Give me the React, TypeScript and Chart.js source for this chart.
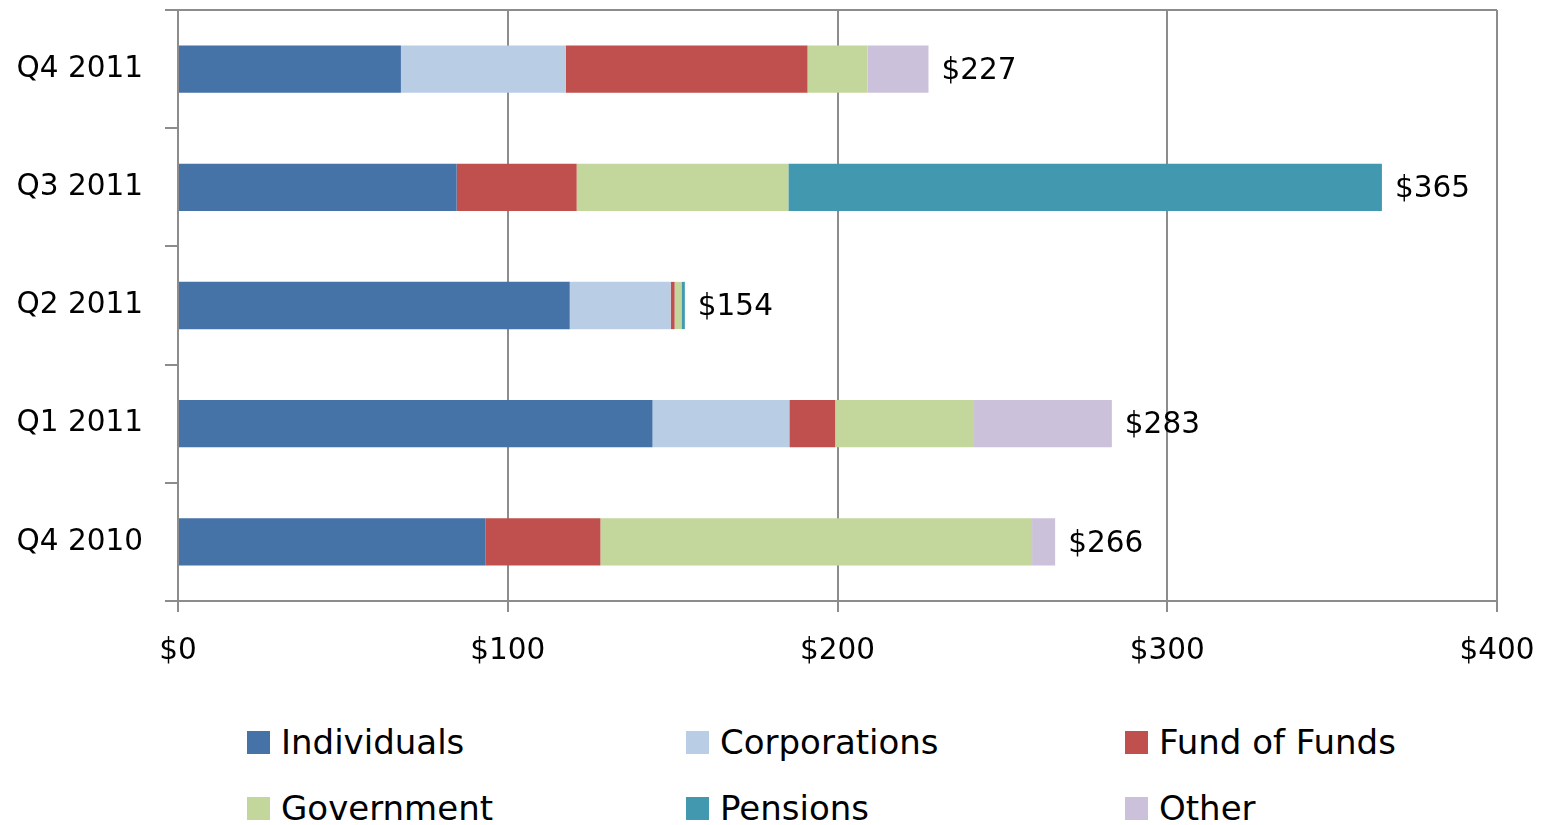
import React, { useEffect, useRef } from "react";
import { Chart, registerables } from "chart.js";

Chart.register(...registerables);

const categories = ["Q4 2011", "Q3 2011", "Q2 2011", "Q1 2011", "Q4 2010"];
const individuals = [67.6, 84.5, 118.8, 143.9, 93.3];
const corporations = [50, 0, 30.6, 41.5, 0];
const fundOfFunds = [73.3, 36.4, 1.2, 13.9, 34.8];
const government = [18.2, 64.2, 2.1, 42.1, 130.9];
const pensions = [0, 180, 1, 0, 0];
const other = [18.5, 0, 0, 41.8, 7];
const totalLabels = ["$227", "$365", "$154", "$283", "$266"];
const xTicks = [0, 100, 200, 300, 400];

const seriesNames = ["Individuals", "Corporations", "Fund of Funds", "Government", "Pensions", "Other"];
const seriesColors = ["#4572A7", "#B9CDE5", "#C0504D", "#C3D69B", "#4198AF", "#CCC1DA"];
const seriesData = [individuals, corporations, fundOfFunds, government, pensions, other];

const FONT = "'DejaVu Sans', sans-serif";
const GRID = "#8C8C8C";
const LABEL_SIZE = 29.5;

const totalsPlugin = {
  id: "totals",
  afterDatasetsDraw(chart: any) {
    const ctx = chart.ctx;
    const xs = chart.scales.x;
    const ys = chart.scales.y;
    ctx.save();
    ctx.font = `${LABEL_SIZE}px ${FONT}`;
    ctx.fillStyle = "#000";
    ctx.textAlign = "left";
    ctx.textBaseline = "middle";
    categories.forEach((_, i) => {
      let sum = 0;
      seriesData.forEach((arr) => (sum += arr[i]));
      const x = xs.getPixelForValue(sum) + 13;
      const y = ys.getPixelForValue(i) + 2;
      ctx.fillText(totalLabels[i], x, y);
    });
    ctx.restore();
  },
};

export default function App() {
  const ref = useRef<HTMLCanvasElement>(null);
  useEffect(() => {
    document.body.style.margin = "0";
    const chart = new Chart(ref.current!, {
      type: "bar",
      data: {
        labels: categories,
        datasets: seriesData.map((d, i) => ({
          label: seriesNames[i],
          data: d,
          backgroundColor: seriesColors[i],
          borderWidth: 0,
          categoryPercentage: 1,
          barPercentage: 0.4,
        })),
      },
      options: {
        indexAxis: "y",
        animation: false,
        responsive: false,
        maintainAspectRatio: false,
        layout: { padding: { top: 10, right: 48, left: 0, bottom: 0 } },
        plugins: { legend: { display: false }, tooltip: { enabled: false } },
        scales: {
          x: {
            stacked: true,
            min: 0,
            max: 400,
            afterBuildTicks: (s: any) => {
              s.ticks = xTicks.map((v) => ({ value: v }));
            },
            ticks: {
              callback: (v: any) => "$" + v,
              color: "#000",
              font: { family: FONT, size: LABEL_SIZE },
              padding: 22,
              maxRotation: 0,
            },
            grid: { color: GRID, lineWidth: 2, tickLength: 11, tickColor: GRID },
            border: { color: GRID, width: 2 },
            afterFit: (s: any) => {
              s.height = 79;
              s.paddingLeft = 0;
              s.paddingRight = 0;
            },
          },
          y: {
            stacked: true,
            offset: true,
            ticks: {
              color: "#000",
              font: { family: FONT, size: LABEL_SIZE },
              padding: 22,
            },
            grid: {
              offset: true,
              color: (c: any) => (c.index === 0 ? GRID : "rgba(0,0,0,0)"),
              tickColor: GRID,
              lineWidth: 2,
              tickLength: 13,
            },
            border: { color: GRID, width: 2 },
            afterFit: (s: any) => {
              s.width = 178;
              s.paddingTop = 0;
              s.paddingBottom = 0;
            },
          },
        },
      },
      plugins: [totalsPlugin],
    });
    return () => chart.destroy();
  }, []);

  const legendCols = [247, 686, 1125];
  const legendRows = [742, 808];

  return (
    <div style={{ position: "relative", width: 1545, height: 825, overflow: "hidden", fontFamily: FONT }}>
      <canvas ref={ref} width={1545} height={680} style={{ position: "absolute", left: 0, top: 0 }} />
      {seriesNames.map((name, i) => {
        const col = i % 3;
        const row = Math.floor(i / 3);
        return (
          <div
            key={name}
            style={{
              position: "absolute",
              left: legendCols[col],
              top: legendRows[row] - 20,
              height: 40,
              display: "flex",
              alignItems: "center",
              fontSize: 34,
              color: "#000",
              whiteSpace: "nowrap",
            }}
          >
            <span style={{ display: "inline-block", width: 23, height: 23, background: seriesColors[i], marginRight: 11 }} />
            <span>{name}</span>
          </div>
        );
      })}
    </div>
  );
}
